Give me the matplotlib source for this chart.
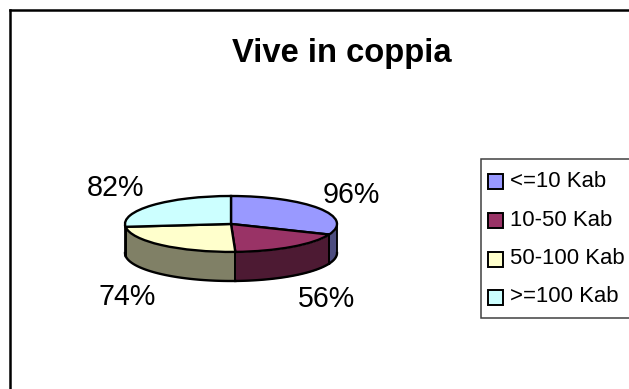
import numpy as np
import matplotlib
matplotlib.use("Agg")
import matplotlib.pyplot as plt
from matplotlib.patches import Rectangle

plt.rcParams['font.family'] = ['Liberation Sans', 'DejaVu Sans']

# data
categories = ["<=10 Kab", "10-50 Kab", "50-100 Kab", ">=100 Kab"]
values = [96, 56, 74, 82]
labels = ["96%", "56%", "74%", "82%"]
top_colors = ["#9999ff", "#993366", "#ffffcc", "#ccffff"]
side_colors = ["#4d4d80", "#4d1a33", "#808066", "#668080"]

W, H = 629, 389
fig = plt.figure(figsize=(W / 100, H / 100), dpi=100)

# page axes in pixel units, for frame, title and legend
page = fig.add_axes([0, 0, 1, 1])
page.set(xlim=(0, W), ylim=(H, 0))
page.axis("off")
page.plot([10, 10], [H, 10], color="black", lw=1.8, solid_capstyle="projecting")
page.plot([10, W], [10, 10], color="black", lw=1.8, solid_capstyle="projecting")
page.text(342, 53, "Vive in coppia", fontsize=23.6, fontweight="bold", ha="center", va="center")

# pie axes: one data unit is the ellipse radius, depth is one unit in y
left, right, top, bottom = 125, 337, 196, 281
depth = 1.04
pie = fig.add_axes([left / W, 1 - bottom / H, (right - left) / W, (bottom - top) / H])
pie.set_zorder(2)

fracs = np.array(values) / sum(values)
edges = np.concatenate([[0], np.cumsum(fracs)]) * 2 * np.pi  # clockwise from top

# side walls, only the part of the rim that faces the viewer
for i in range(len(values)):
    a0 = max(edges[i], np.pi / 2)
    a1 = min(edges[i + 1], 3 * np.pi / 2)
    if a1 <= a0:
        continue
    t = np.linspace(a0, a1, 80)
    x = np.sin(t)
    y = np.cos(t)
    pie.fill_between(x, y, y - depth, color=side_colors[i], lw=0)
    pie.plot(x, y - depth, color="black", lw=1.7)
    pie.plot([x[0], x[0]], [y[0], y[0] - depth], color="black", lw=1.3)
    pie.plot([x[-1], x[-1]], [y[-1], y[-1] - depth], color="black", lw=1.3)

# top surface
pie.pie(values, colors=top_colors, startangle=90, counterclock=False, radius=1,
        wedgeprops=dict(edgecolor="black", linewidth=1.7))
pie.set_aspect("auto")
pie.set(xlim=(-1, 1), ylim=(-1 - depth, 1))
pie.axis("off")
for patch in pie.patches:
    patch.set_clip_on(False)
for line in pie.lines:
    line.set_clip_on(False)

# percent labels
label_pos = [(351, 195), (327, 299), (127, 297), (116, 188)]
for txt, (lx, ly) in zip(labels, label_pos):
    page.text(lx, ly, txt, fontsize=20.6, ha="center", va="center")

# legend, cut by the right edge like the original
page.add_patch(Rectangle((480.5, 159), 160, 159, facecolor="white", edgecolor="#404040", lw=1.1))
legend_y = [181, 220, 259, 297]
for name, color, ly in zip(categories, top_colors, legend_y):
    page.add_patch(Rectangle((488, ly - 7.5), 15, 15, facecolor=color, edgecolor="black", lw=1.4))
    page.text(510, ly, name, fontsize=15.9, ha="left", va="center")

fig.savefig("out.png", dpi=100)
